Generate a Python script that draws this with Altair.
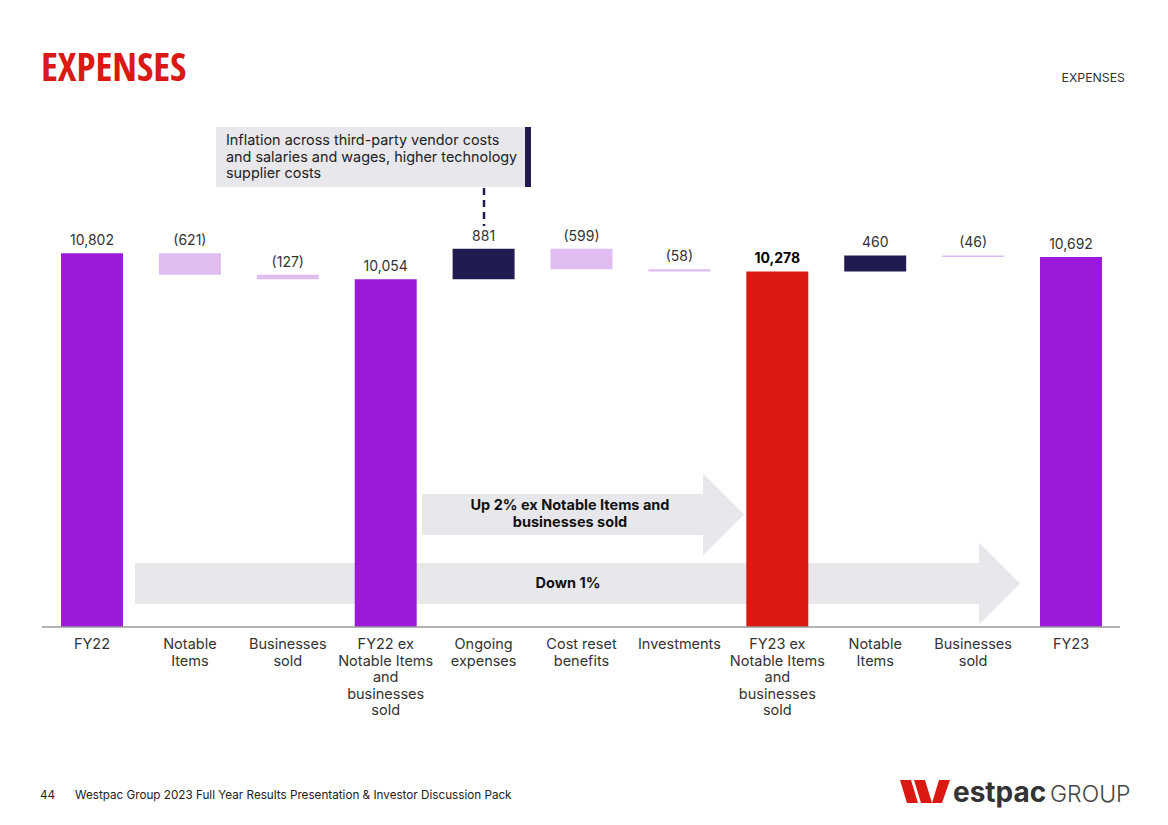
import altair as alt
import pandas as pd

# ---------------- data ----------------
keys = ["FY22", "NI1", "BS1", "FY22ex", "Ongoing", "CostReset", "Invest",
        "FY23ex", "NI2", "BS2", "FY23"]
x_labels = ["FY22", "Notable\nItems", "Businesses\nsold",
            "FY22 ex\nNotable Items\nand\nbusinesses\nsold",
            "Ongoing\nexpenses", "Cost reset\nbenefits", "Investments",
            "FY23 ex\nNotable Items\nand\nbusinesses\nsold",
            "Notable\nItems", "Businesses\nsold", "FY23"]
values = [10802, -621, -127, 10054, 881, -599, -58, 10278, 460, -46, 10692]
kinds = ["total", "delta", "delta", "total", "delta", "delta", "delta",
         "total", "delta", "delta", "total"]
value_labels = ["10,802", "(621)", "(127)", "10,054", "881", "(599)", "(58)",
                "10,278", "460", "(46)", "10,692"]

PURPLE = "#9B1AD9"
LAVENDER = "#E0BDF0"
NAVY = "#211C4F"
RED = "#DA1A12"
GREY = "#E8E8EC"
TEXT = "#333333"
FONT = "Inter"

rows = []
run = 0
for k, lab, v, kind, vl in zip(keys, x_labels, values, kinds, value_labels):
    if kind == "total":
        y0, y1 = 0, v
        run = v
        col = RED if k == "FY23ex" else PURPLE
    else:
        y0, y1 = run, run + v
        run += v
        col = NAVY if v > 0 else LAVENDER
    rows.append(dict(key=k, xlabel=lab, y0=y0, y1=y1, top=max(y0, y1),
                     color=col, vlabel=vl, bold=(k == "FY23ex")))
df = pd.DataFrame(rows)
one = pd.DataFrame({"a": [0]})

W, H = 1152, 800
xscale = alt.Scale(domain=keys, range=[35, 1112], paddingInner=0.367, paddingOuter=0.184)
yscale = alt.Scale(domain=[0, 15000], range=[619, 100], nice=False, zero=False)
X = alt.X("key:N", scale=xscale, axis=None)


def txt(text, x, y, **kw):
    return alt.Chart(one).mark_text(text=text, **kw).encode(x=alt.value(x), y=alt.value(y))


def rect(x, x2, y, y2, color):
    return alt.Chart(one).mark_rect(color=color).encode(
        x=alt.value(x), x2=alt.value(x2), y=alt.value(y), y2=alt.value(y2))


def head(x, y, half, color):
    return alt.Chart(one).mark_point(shape="M0,-1L1,0L0,1Z", filled=True, size=(2 * half) ** 2,
                                     color=color, opacity=1, strokeWidth=0).encode(
        x=alt.value(x), y=alt.value(y))


# arrows (behind bars)
arrows = [
    rect(414, 695.5, 486, 527, GREY), head(695, 506.5, 41, GREY),
    rect(127, 971.5, 555, 596, GREY), head(971, 575.5, 41, GREY),
    txt("Up 2% ex Notable Items and\nbusinesses sold", 562, 491, lineBreak="\n", lineHeight=17,
        font=FONT, fontSize=14.5, fontWeight="bold", color="#111111", align="center", baseline="top"),
    txt("Down 1%", 560, 576, font=FONT, fontSize=14.5, fontWeight="bold", color="#111111",
        align="center", baseline="middle"),
]

bars = alt.Chart(df).mark_bar().encode(
    x=X, y=alt.Y("y0:Q", scale=yscale, axis=None), y2="y1:Q",
    color=alt.Color("color:N", scale=None))

vlab = alt.Chart(df).transform_filter("!datum.bold").mark_text(
    font=FONT, fontSize=14, color=TEXT, dy=-8, baseline="alphabetic").encode(
    x=X, y=alt.Y("top:Q", scale=yscale, axis=None), text="vlabel:N")
vlab_b = alt.Chart(df).transform_filter("datum.bold").mark_text(
    font=FONT, fontSize=14, color="#000000", fontWeight="bold", dy=-8, baseline="alphabetic").encode(
    x=X, y=alt.Y("top:Q", scale=yscale, axis=None), text="vlabel:N")

xlab = alt.Chart(df).mark_text(font=FONT, fontSize=14.5, color=TEXT, lineBreak="\n",
                               lineHeight=16.5, baseline="top", align="center").encode(
    x=X, y=alt.value(630), text="xlabel:N")

axis_line = alt.Chart(one).mark_rule(color="#9a9a9a", strokeWidth=1.5).encode(
    x=alt.value(34), x2=alt.value(1112), y=alt.value(619))

# annotation box
annot = [
    rect(208, 517, 119, 179, GREY),
    rect(517, 523, 119, 179, NAVY),
    txt("Inflation across third-party vendor costs\nand salaries and wages, higher technology\nsupplier costs",
        218, 126, lineBreak="\n", lineHeight=16.5, font=FONT, fontSize=14.4, color="#222222",
        align="left", baseline="top"),
    alt.Chart(one).mark_rule(color=NAVY, strokeWidth=2.5, strokeDash=[7, 5]).encode(
        x=alt.value(476), y=alt.value(180), y2=alt.value(218)),
]

# page decorations
deco = [
    txt("EXPENSES", 33, 73, font="Open Sans Condensed, Roboto Condensed, sans-serif",
        fontSize=39.5, fontWeight="bold", color=RED, align="left", baseline="alphabetic"),
    txt("EXPENSES", 1117, 70, font=FONT, fontSize=12.3, color=TEXT, align="right", baseline="middle"),
    txt("44", 32, 787, font=FONT, fontSize=11.7, color="#222222", align="left", baseline="middle"),
    txt("Westpac Group 2023 Full Year Results Presentation & Investor Discussion Pack", 67, 787,
        font=FONT, fontSize=11.7, color="#222222", align="left", baseline="middle"),
    alt.Chart(one).mark_point(
        shape="M0,0L11,0L18,23L7,23ZM14,0L25,0L32,23L21,23ZM32,23L42,23L50,0L39,0Z",
        filled=True, size=4, color=RED, opacity=1, strokeWidth=0).encode(
        x=alt.value(892), y=alt.value(772)),
    txt("estpac", 945, 794, font=FONT, fontSize=28, fontWeight="bold", color="#333333",
        align="left", baseline="alphabetic"),
    txt("GROUP", 1042, 794, font=FONT, fontSize=23, fontWeight=300, color="#444444",
        align="left", baseline="alphabetic"),
]

chart = alt.layer(*arrows, bars, vlab, vlab_b, xlab, axis_line, *annot, *deco).properties(
    width=W, height=H, autosize=alt.AutoSizeParams(type="none"), padding=0,
    background="white"
).configure_view(stroke=None)

chart.save("out.html", embed_options={"renderer": "svg", "actions": False})
